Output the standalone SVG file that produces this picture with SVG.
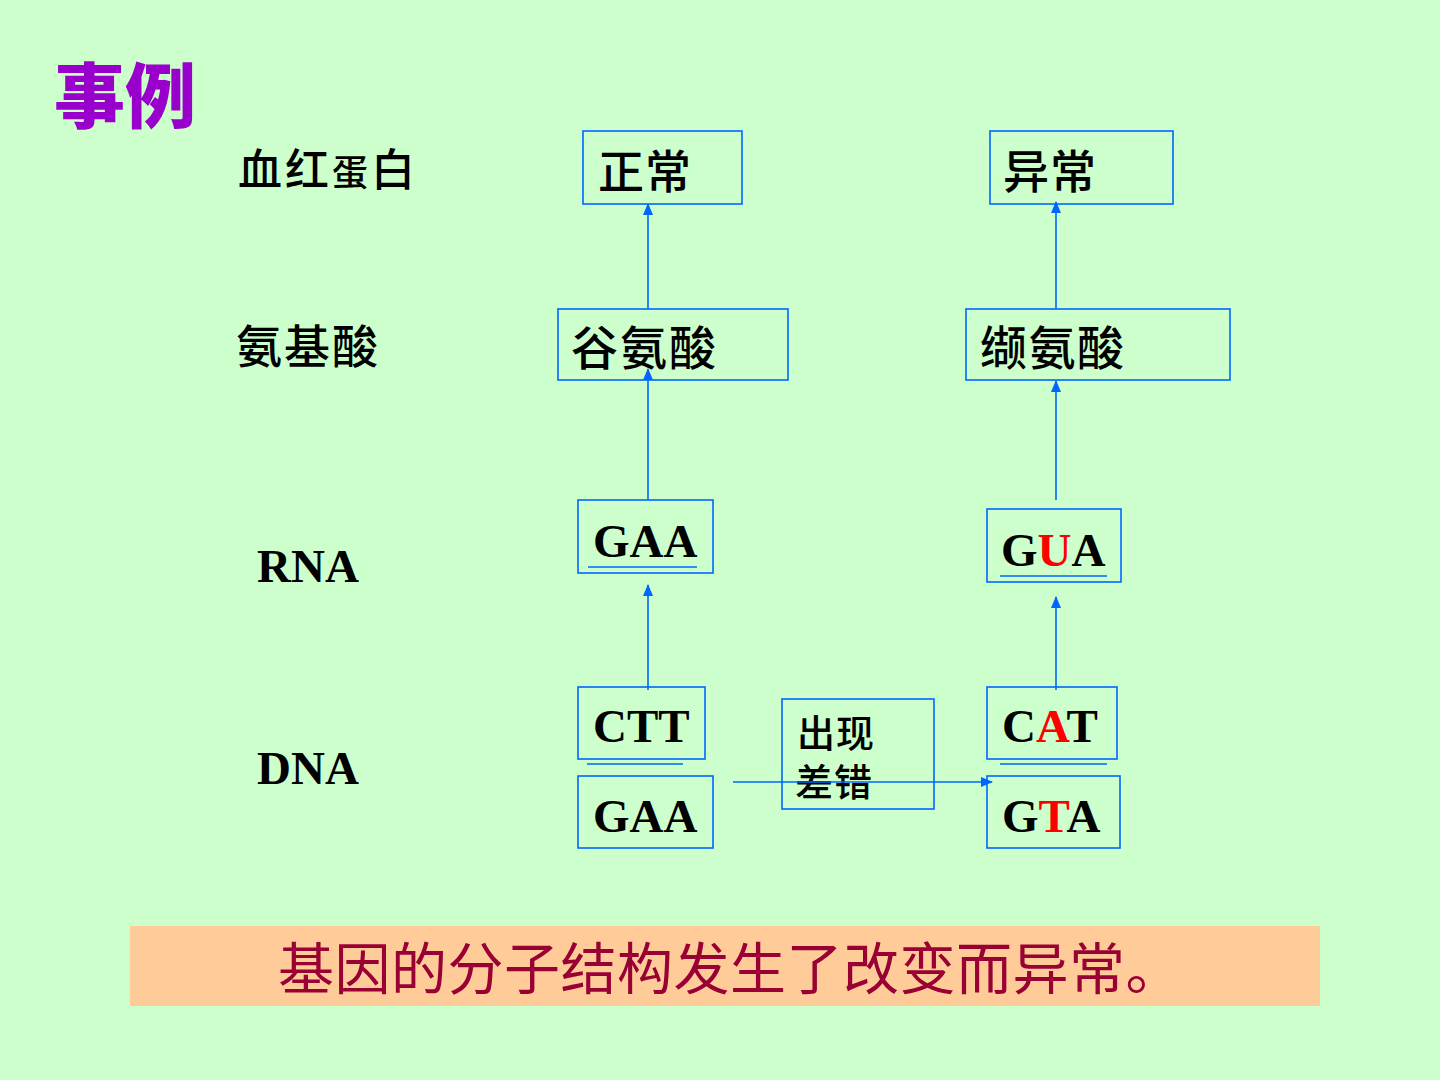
<svg xmlns="http://www.w3.org/2000/svg" width="1440" height="1080" viewBox="0 0 1440 1080">
<defs>
<marker id="ah" markerWidth="12" markerHeight="10" refX="11" refY="5" orient="auto" markerUnits="userSpaceOnUse">
<path d="M0,0 L12,5 L0,10 Z" fill="#0066FF"/>
</marker>
<style>
.box{fill:none;stroke:#0066FF;stroke-width:1.6}
.cn{font-family:"Noto Sans CJK SC","Noto Sans CJK TC",sans-serif;fill:#000;font-weight:500}
.lat{font-family:"Liberation Serif","Times New Roman",serif;font-weight:bold;fill:#000;font-size:47px}
.red{fill:#FF0000}
.ln{stroke:#0066FF;stroke-width:1.6;fill:none}
.arr{stroke:#0066FF;stroke-width:1.6;fill:none;marker-end:url(#ah)}
</style>
</defs>
<rect x="0" y="0" width="1440" height="1080" fill="#CCFFCC"/>
<text x="54" y="122" font-family="Noto Sans CJK SC,sans-serif" font-weight="900" font-size="71" fill="#9900CC">事例</text>
<g id="labels">
<text class="cn" x="238" y="186" font-size="44" letter-spacing="3">血红<tspan font-size="36">蛋</tspan>白</text>
<text class="cn" x="236" y="363" font-size="46" letter-spacing="2">氨基酸</text>
<text class="lat" x="257" y="582" font-size="45">RNA</text>
<text class="lat" x="257" y="784" font-size="45">DNA</text>
</g>
<g id="n-zhengchang"><rect class="box" x="583" y="131" width="159" height="73"/><text class="cn" x="598" y="188" font-size="46" letter-spacing="1">正常</text></g>
<g id="n-yichang"><rect class="box" x="990" y="131" width="183" height="73"/><text class="cn" x="1003" y="188" font-size="46" letter-spacing="1">异常</text></g>
<g id="n-gu"><rect class="box" x="558" y="309" width="230" height="71"/><text class="cn" x="571" y="365" font-size="47" letter-spacing="2">谷氨酸</text></g>
<g id="n-xie"><rect class="box" x="966" y="309" width="264" height="71"/><text class="cn" x="980" y="365" font-size="47" letter-spacing="1.5">缬氨酸</text></g>
<g id="n-rna1"><rect class="box" x="578" y="500" width="135" height="73"/><text class="lat" x="593" y="557">GAA</text><line class="ln" x1="588" y1="567" x2="697" y2="567"/></g>
<g id="n-rna2"><rect class="box" x="987" y="509" width="134" height="73"/><text class="lat" x="1001" y="566">G<tspan class="red">U</tspan>A</text><line class="ln" x1="1000" y1="576" x2="1107" y2="576"/></g>
<g id="n-ctt"><rect class="box" x="578" y="687" width="127" height="72"/><text class="lat" x="593" y="742">CTT</text></g>
<line class="ln" x1="587" y1="764" x2="683" y2="764"/>
<g id="n-gaa"><rect class="box" x="578" y="776" width="135" height="72"/><text class="lat" x="593" y="832">GAA</text></g>
<g id="n-cuo"><rect class="box" x="782" y="699" width="152" height="110"/><text class="cn" x="797" y="747" font-size="38" letter-spacing="1">出现</text><text class="cn" x="795" y="796" font-size="38" letter-spacing="1">差错</text></g>
<g id="n-cat"><rect class="box" x="987" y="687" width="130" height="72"/><text class="lat" x="1002" y="742">C<tspan class="red">A</tspan>T</text></g>
<line class="ln" x1="1000" y1="764" x2="1107" y2="764"/>
<g id="n-gta"><rect class="box" x="987" y="776" width="133" height="72"/><text class="lat" x="1002" y="832">G<tspan class="red">T</tspan>A</text></g>
<g id="connectors">
<line class="arr" x1="648" y1="309" x2="648" y2="204"/>
<line class="arr" x1="648" y1="500" x2="648" y2="369"/>
<line class="arr" x1="1056" y1="309" x2="1056" y2="202"/>
<line class="arr" x1="1056" y1="500" x2="1056" y2="381"/>
<line class="arr" x1="648" y1="690" x2="648" y2="585"/>
<line class="arr" x1="1056" y1="690" x2="1056" y2="597"/>
<line class="arr" x1="733" y1="782" x2="992" y2="782"/>
</g>
<g id="banner">
<rect x="130" y="926" width="1190" height="80" fill="#FFCC99"/>
<text x="278" y="989" font-family="Noto Sans CJK SC,sans-serif" font-size="56" letter-spacing="0.5" fill="#990033">基因的分子结构发生了改变而异常。</text>
</g>
</svg>
